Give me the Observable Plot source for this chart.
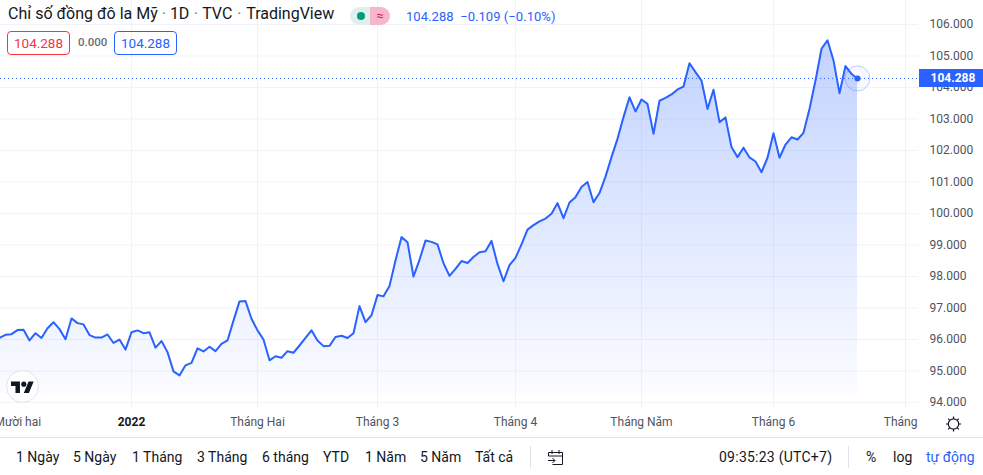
<!DOCTYPE html>
<html><head><meta charset="utf-8">
<script src="https://cdn.jsdelivr.net/npm/d3@7"></script>
<script src="https://cdn.jsdelivr.net/npm/@observablehq/plot@0.6"></script>
<style>
html,body{margin:0;padding:0;background:#fff;width:983px;height:475px;overflow:hidden}
body{position:relative;font-family:Roboto,"Liberation Sans",sans-serif;color:#131722}
.o{position:absolute;white-space:nowrap;line-height:1}
.t{font-size:14px;color:#131722;top:450px}
.s{position:absolute;background:#e0e3eb;width:1px;height:22px;top:446px}
.dotsep{color:#787b86}
</style></head><body>
<div id="chart"></div>
<script>
const values = [96.05,96.15,96.17,96.30,96.31,95.97,96.20,96.05,96.36,96.55,96.33,96.01,96.67,96.52,96.48,96.14,96.06,96.06,96.16,95.89,96.00,95.68,96.23,96.29,96.20,96.23,95.74,95.95,95.60,94.99,94.86,95.18,95.26,95.72,95.62,95.77,95.63,95.86,95.97,96.60,97.21,97.22,96.66,96.29,96.00,95.34,95.47,95.42,95.63,95.58,95.81,96.05,96.29,95.97,95.79,95.80,96.08,96.12,96.05,96.20,97.06,96.55,96.77,97.41,97.37,97.70,98.51,99.25,99.09,98.00,98.53,99.14,99.10,99.02,98.42,98.02,98.24,98.49,98.43,98.62,98.77,98.80,99.13,98.40,97.85,98.36,98.59,99.02,99.49,99.63,99.75,99.84,99.99,100.33,99.85,100.35,100.52,100.84,101.00,100.36,100.65,101.17,101.79,102.37,103.06,103.69,103.24,103.62,103.48,102.53,103.58,103.67,103.78,103.94,104.03,104.77,104.49,104.22,103.32,103.93,102.90,103.05,102.11,101.79,102.09,101.78,101.65,101.31,101.77,102.55,101.77,102.19,102.42,102.35,102.56,103.32,104.22,105.23,105.50,104.86,103.82,104.68,104.43,104.288];
const priceTicks = [94,95,96,97,98,99,100,101,102,103,104,105,106];
const timeTicks = [0,43,63,86,107,129,151];
const timeLabels = ["Tháng Mười hai","Tháng Hai","Tháng 3","Tháng 4","Tháng Năm","Tháng 6","Tháng 7"];
const yearTick = [22];
const yearLabel = "2022";
const gridTicks = [22,43,63,86,107,129,151];
const areaBase = 94.286;
const rangeButtons = ["1 Ngày","5 Ngày","1 Tháng","3 Tháng","6 tháng","YTD","1 Năm","5 Năm","Tất cả"];
const blue = "#2962ff", grid = "#f0f3fa", axisText = "#50535e";
const font = 'Roboto,"Liberation Sans",sans-serif';
const last = values[values.length-1];
const data = values.map((v,i)=>({i,v}));

const plot = Plot.plot({
  width:983,height:438,marginLeft:0,marginRight:65,marginTop:0,marginBottom:30,
  style:{fontFamily:font,fontSize:"12px",background:"#fff"},
  x:{type:"linear",domain:[0.167,153.167],axis:null},
  y:{domain:[93.81,106.762],axis:null},
  marks:[
    Plot.gridX(gridTicks,{stroke:grid,strokeOpacity:1}),
    Plot.gridY(priceTicks,{stroke:grid,strokeOpacity:1}),
    Plot.areaY(data,{x:"i",y1:()=>areaBase,y2:"v",fill:"url(#tvfill)",clip:true}),
    Plot.ruleY([last],{stroke:blue,strokeDasharray:"1 3",strokeWidth:1}),
    Plot.line(data,{x:"i",y:"v",stroke:blue,strokeWidth:2,clip:true}),
    Plot.dot([data[data.length-1]],{x:"i",y:"v",r:12.5,fill:blue,fillOpacity:0.04,stroke:blue,strokeOpacity:0.3,strokeWidth:1}),
    Plot.dot([data[data.length-1]],{x:"i",y:"v",r:3,fill:blue}),
    Plot.axisY(priceTicks,{anchor:"right",tickSize:0,tickPadding:11,textAnchor:"start",tickFormat:d=>d.toFixed(3),fill:axisText,label:null}),
    Plot.axisX(timeTicks,{anchor:"bottom",tickSize:0,tickPadding:9,tickFormat:d=>timeLabels[timeTicks.indexOf(d)],fill:axisText,label:null}),
    Plot.axisX(yearTick,{anchor:"bottom",tickSize:0,tickPadding:9,tickFormat:()=>yearLabel,fill:"#131722",fontWeight:"bold",label:null})
  ]
});
const ns="http://www.w3.org/2000/svg";
const defs=document.createElementNS(ns,"defs");
defs.innerHTML='<linearGradient id="tvfill" gradientUnits="userSpaceOnUse" x1="0" y1="'+plot.scale("y").apply(105.5)+'" x2="0" y2="'+plot.scale("y").apply(areaBase)+'"><stop offset="0" stop-color="'+blue+'" stop-opacity="0.28"/><stop offset="1" stop-color="'+blue+'" stop-opacity="0.02"/></linearGradient>';
plot.insertBefore(defs,plot.firstChild);
document.getElementById("chart").appendChild(plot);

function add(cls,style,html){const d=document.createElement("div");d.className=cls;d.style.cssText=style;d.innerHTML=html;document.body.appendChild(d);return d;}
// header
const dot=m=>"<span class='dotsep' style='margin:0 "+m+"px'>·</span>";
add("o","left:8px;top:6px;font-size:16px;color:#131722","Chỉ số đồng đô la Mỹ "+dot(0)+" 1D "+dot(0.5)+" TVC "+dot(1)+" TradingView");
add("o","left:350px;top:7px;width:20px;height:18px;background:#dff1ed;border-radius:9px 0 0 9px","<div style='position:absolute;left:7px;top:5px;width:8px;height:8px;border-radius:50%;background:#089981'></div>");
add("o","left:370px;top:7px;width:20px;height:18px;background:#f7b6cd;border-radius:0 9px 9px 0;color:#d81b60;font-size:13px;text-align:center;line-height:18px","≈");
add("o","left:406px;top:10px;font-size:13px;letter-spacing:0.05px;color:"+blue,last.toFixed(3)+"&nbsp; −0.109 (−0.10%)");
add("o","left:7px;top:31px;width:61px;height:22px;border:1px solid #f23645;border-radius:4px;color:#f23645;font-size:13.5px;text-align:center;line-height:22px",last.toFixed(3));
add("o","left:78px;top:37px;font-size:11.5px;color:#6a6d78;font-weight:500","0.000");
add("o","left:114px;top:31px;width:61px;height:22px;border:1px solid "+blue+";border-radius:4px;color:"+blue+";font-size:13.5px;text-align:center;line-height:22px",last.toFixed(3));
// price tag tied to the y scale
const ty=plot.scale("y").apply(last);
add("o","left:919px;top:"+(ty-9)+"px;width:64px;height:18px;box-sizing:border-box;padding-left:4px;background:"+blue+";color:#fff;font-size:12px;font-weight:bold;line-height:18px;text-align:center",last.toFixed(3));
// time-axis corner
add("o","left:918px;top:408px;width:65px;height:29px;background:#fff","<svg width='65' height='29' style='display:block'><g fill='none' stroke='#131722' stroke-width='1.2'><circle cx='35.5' cy='16' r='5.2'/><path d='M35.5 8.5v2.3M35.5 21.2v2.3M28 16h2.3M40.7 16H43M30.2 10.7l1.6 1.6M39.2 19.7l1.6 1.6M30.2 21.3l1.6-1.6M39.2 12.3l1.6-1.6'/></g></svg>");
// TV logo
add("o","left:6px;top:370px;width:31px;height:31px;border:1px solid #e0e3eb;border-radius:50%;background:#fff","<svg viewBox='0 0 36 28' width='23' height='18' style='position:absolute;left:4px;top:8px'><path fill='#131722' d='M14 22H7V11H0V4h14v18zM28 22h-8l7.5-18h8L28 22z'/><circle fill='#131722' cx='20' cy='8' r='4'/></svg>");
// bottom bar
add("o","left:0;top:437px;width:983px;height:1px;background:#e0e3eb","");
const btnX=[16,73,132,197,262,323,365,420,475];
rangeButtons.forEach((b,i)=>add("o t","left:"+btnX[i]+"px",b));
add("s","left:530px","");
add("s","left:848px","");
add("o","left:547px;top:448px","<svg width='18' height='18' fill='none' stroke='#131722' stroke-width='1'><path d='M1.5 8V4.5h14v12h-10M1.5 8h14M5 2v4M12 2v4M1 12.5h7M5.5 10l2.5 2.5L5.5 15'/></svg>");
add("o t","left:719px;letter-spacing:0.25px","09:35:23 (UTC+7)");
add("o t","left:866px","%");
add("o t","left:893px","log");
add("o t","left:926px;color:"+blue,"tự động");
</script>
</body></html>
